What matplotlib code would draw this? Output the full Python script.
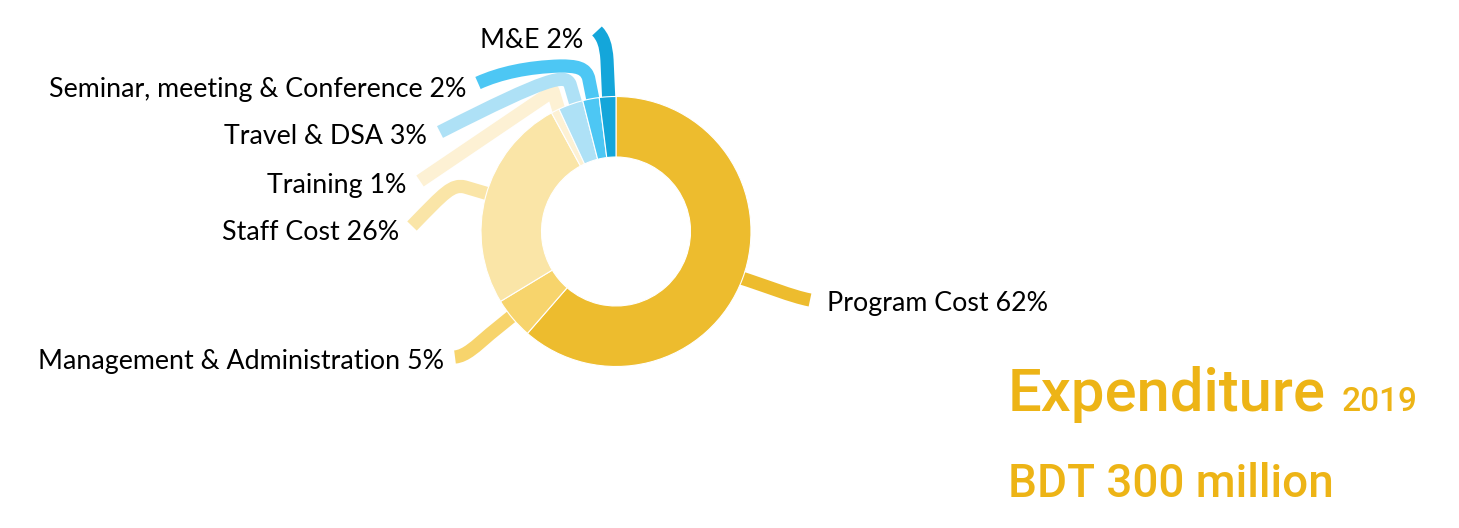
import matplotlib.pyplot as plt
from matplotlib.path import Path
from matplotlib.patches import PathPatch

categories = ["Program Cost", "Management & Administration", "Staff Cost", "Training",
              "Travel & DSA", "Seminar, meeting & Conference", "M&E"]
shares = [62, 5, 26, 1, 3, 2, 2]
colors = ["#EDBC2E", "#F7D46C", "#FAE5A7", "#FDF1D4", "#AEE1F6", "#4DC7F4", "#14A6DA"]

W, H = 1459, 528
fig = plt.figure(figsize=(W / 100, H / 100), dpi=100)
ax = fig.add_axes([0, 0, 1, 1])


def Y(y):
    # image-style y (top down) to axes y
    return H - y


cx, cy, r_out, r_in = 616, 231.5, 135, 74.5
ax.pie(shares, colors=colors, startangle=90, counterclock=False,
       center=(cx, Y(cy)), radius=r_out, frame=True,
       wedgeprops=dict(width=r_out - r_in, edgecolor="white", linewidth=0.8))
ax.set_xlim(0, W)
ax.set_ylim(0, H)
ax.axis("off")
ax.set_aspect("equal")

# leader strokes, in image pixel coords
M, L, C = Path.MOVETO, Path.LINETO, Path.CURVE4
leaders = [
    ([(735, 276), (770, 287), (790, 296), (810, 300)], [M, C, C, C], 0),
    ([(522, 308), (490, 334), (476, 346), (466, 356), (455, 357)], [M, L, C, C, C], 1),
    ([(492, 195), (465, 187), (452, 184), (445, 192), (412, 226)], [M, L, C, C, L], 2),
    ([(560, 114), (553, 91), (420, 181)], [M, L, L], 3),
    ([(577, 108), (570, 84), (565, 74), (550, 76), (440, 132)], [M, L, C, C, L], 4),
    ([(594, 105), (589, 80), (587, 67), (575, 66), (560, 66), (528, 67), (500, 73), (478, 83)],
     [M, L, C, C, L, C, C, C], 5),
    ([(609, 105), (607, 60), (606, 45), (603, 37), (597, 31)], [M, L, C, C, C], 6),
]
for pts, codes, i in leaders:
    path = Path([(x, Y(y)) for x, y in pts], codes)
    ax.add_patch(PathPatch(path, fill=False, edgecolor=colors[i], lw=9.5,
                           capstyle="butt", joinstyle="round", zorder=0))

label_pos = [(827, 304, "left"), (444, 362, "right"), (399, 233, "right"),
             (406, 185, "right"), (427, 136, "right"), (466, 89, "right"), (583, 41, "right")]
for name, v, (x, y, ha) in zip(categories, shares, label_pos):
    ax.text(x, Y(y), f"{name} {v}%", ha=ha, va="center", fontsize=19.3,
            family=["Lato", "DejaVu Sans"], color="black")

title_font = ["Roboto", "DejaVu Sans"]
gold = "#EDB416"
ax.text(1008, Y(411), "Expenditure", ha="left", va="baseline", fontsize=43,
        family=title_font, weight="medium", color=gold)
ax.text(1342, Y(411), "2019", ha="left", va="baseline", fontsize=24,
        family=title_font, weight="medium", color=gold)
ax.text(1008, Y(497), "BDT 300 million", ha="left", va="baseline", fontsize=33,
        family=title_font, weight="medium", color=gold)

fig.savefig("out.png", dpi=100)
